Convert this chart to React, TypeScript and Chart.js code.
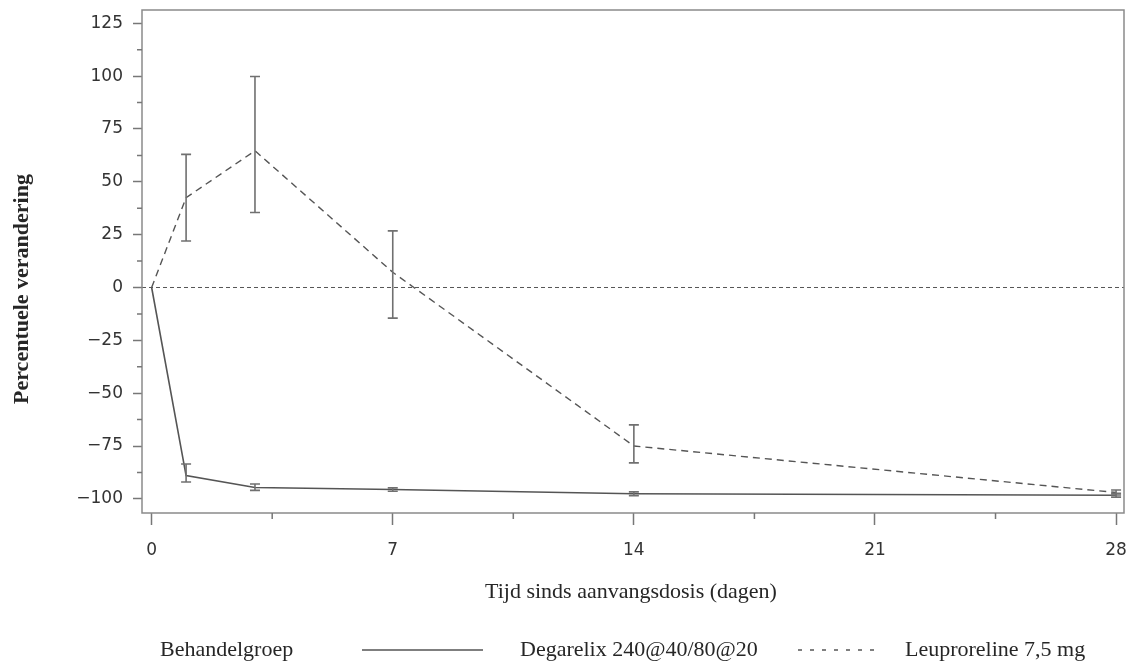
import React, { useEffect, useRef } from "react";
import { Chart, registerables } from "chart.js";

Chart.register(...registerables);

// ---- data ----
const days = [0, 1, 3, 7, 14, 28];
const degarelix = [0, -89, -94.6, -95.6, -97.6, -98.3];
const degarelixLow = [null, -92, -96, -96.4, -98.5, -99.2];
const degarelixHigh = [null, -83.5, -93, -94.8, -96.7, -97.4];
const leuprorelin = [0, 42.5, 64.7, 7.2, -75, -97];
const leuprorelinLow = [null, 22, 35.5, -14.5, -83, -98.2];
const leuprorelinHigh = [null, 63, 99.8, 26.8, -65, -95.8];

const xTickValues = [0, 7, 14, 21, 28];
const xMinorTicks = [3.5, 10.5, 17.5, 24.5];
const yTickValues = [-100, -75, -50, -25, 0, 25, 50, 75, 100, 125];
const yMinorTicks = [-87.5, -62.5, -37.5, -12.5, 12.5, 37.5, 62.5, 87.5, 112.5];

const xTitle = "Tijd sinds aanvangsdosis (dagen)";
const yTitle = "Percentuele verandering";
const legendTitle = "Behandelgroep";
const seriesNames = ["Degarelix 240@40/80@20", "Leuproreline 7,5 mg"];

const LINE = "#555555";
const FRAME = "#8a8a8a";
const TEXT = "#262626";
const SERIF = '"Liberation Serif", "Times New Roman", serif';

const fmt = (v: number) => (v < 0 ? "\u2212" + Math.abs(v) : String(v));

const decorPlugin = {
  id: "decor",
  beforeDatasetsDraw(chart: any) {
    const { ctx, chartArea, scales } = chart;
    const ys = scales.y;
    ctx.save();
    const y0 = ys.getPixelForValue(0);
    ctx.strokeStyle = "#555";
    ctx.lineWidth = 1;
    ctx.setLineDash([4, 3]);
    ctx.beginPath();
    ctx.moveTo(chartArea.left, y0);
    ctx.lineTo(chartArea.right, y0);
    ctx.stroke();
    ctx.setLineDash([]);
    ctx.restore();
  },
  afterDatasetsDraw(chart: any) {
    const { ctx, chartArea, scales } = chart;
    const xs = scales.x;
    const ys = scales.y;
    ctx.save();
    const drawBars = (lo: (number | null)[], hi: (number | null)[]) => {
      ctx.strokeStyle = "#707070";
      ctx.lineWidth = 1.6;
      for (let i = 0; i < days.length; i++) {
        const l = lo[i];
        const h = hi[i];
        if (l == null || h == null) continue;
        const x = xs.getPixelForValue(days[i]);
        const yl = ys.getPixelForValue(l);
        const yh = ys.getPixelForValue(h);
        ctx.beginPath();
        ctx.moveTo(x, yl);
        ctx.lineTo(x, yh);
        ctx.moveTo(x - 5, yl);
        ctx.lineTo(x + 5, yl);
        ctx.moveTo(x - 5, yh);
        ctx.lineTo(x + 5, yh);
        ctx.stroke();
      }
    };
    drawBars(degarelixLow, degarelixHigh);
    drawBars(leuprorelinLow, leuprorelinHigh);

    ctx.strokeStyle = FRAME;
    ctx.lineWidth = 1.5;
    ctx.strokeRect(chartArea.left, chartArea.top, chartArea.right - chartArea.left, chartArea.bottom - chartArea.top);

    ctx.strokeStyle = "#777";
    ctx.lineWidth = 1.5;
    ctx.beginPath();
    for (const v of yMinorTicks) {
      const y = ys.getPixelForValue(v);
      ctx.moveTo(chartArea.left - 5, y);
      ctx.lineTo(chartArea.left, y);
    }
    for (const v of xMinorTicks) {
      const x = xs.getPixelForValue(v);
      ctx.moveTo(x, chartArea.bottom);
      ctx.lineTo(x, chartArea.bottom + 6);
    }
    ctx.stroke();

    ctx.fillStyle = TEXT;
    ctx.textBaseline = "middle";
    ctx.textAlign = "center";
    ctx.font = `22px ${SERIF}`;
    ctx.fillText(xTitle, 631, 592);
    ctx.save();
    ctx.translate(22, 289);
    ctx.rotate(-Math.PI / 2);
    ctx.font = `bold 22px ${SERIF}`;
    ctx.fillText(yTitle, 0, 0);
    ctx.restore();

    ctx.textAlign = "left";
    ctx.font = `22px ${SERIF}`;
    ctx.fillText(legendTitle, 160, 650);
    ctx.fillText(seriesNames[0], 520, 650);
    ctx.fillText(seriesNames[1], 905, 650);
    ctx.strokeStyle = LINE;
    ctx.lineWidth = 1.5;
    ctx.beginPath();
    ctx.moveTo(362, 650);
    ctx.lineTo(483, 650);
    ctx.stroke();
    ctx.setLineDash([4, 8]);
    ctx.beginPath();
    ctx.moveTo(798, 650);
    ctx.lineTo(880, 650);
    ctx.stroke();
    ctx.restore();
  },
};

export default function App() {
  const ref = useRef<HTMLCanvasElement | null>(null);

  useEffect(() => {
    if (!ref.current) return;
    const chart = new Chart(ref.current, {
      type: "line",
      data: {
        datasets: [
          {
            label: seriesNames[0],
            data: days.map((d, i) => ({ x: d, y: degarelix[i] })),
            borderColor: LINE,
            borderWidth: 1.6,
            pointRadius: 0,
            tension: 0,
          },
          {
            label: seriesNames[1],
            data: days.map((d, i) => ({ x: d, y: leuprorelin[i] })),
            borderColor: LINE,
            borderWidth: 1.4,
            borderDash: [7, 5],
            pointRadius: 0,
            tension: 0,
          },
        ],
      },
      options: {
        animation: false,
        responsive: false,
        devicePixelRatio: 1,
        layout: { padding: { top: 10, right: 4, left: 0, bottom: 0 } },
        plugins: {
          legend: { display: false },
          tooltip: { enabled: false },
        },
        scales: {
          x: {
            type: "linear",
            min: -0.28,
            max: 28.23,
            afterBuildTicks: (s: any) => {
              s.ticks = xTickValues.map((v) => ({ value: v }));
            },
            afterFit: (s: any) => {
              s.height = 151;
              s.paddingLeft = 0;
              s.paddingRight = 0;
            },
            ticks: {
              callback: (v: any) => fmt(Number(v)),
              font: { family: '"DejaVu Sans"', size: 17 },
              color: "#333",
              padding: 15,
              maxRotation: 0,
            },
            grid: {
              drawOnChartArea: false,
              drawTicks: true,
              tickLength: 12,
              tickColor: "#777",
              tickWidth: 1.5,
            },
            border: { display: false },
          },
          y: {
            type: "linear",
            min: -106.7,
            max: 131.3,
            afterBuildTicks: (s: any) => {
              s.ticks = yTickValues.map((v) => ({ value: v }));
            },
            afterFit: (s: any) => {
              s.width = 142;
              s.paddingTop = 0;
              s.paddingBottom = 0;
            },
            ticks: {
              callback: (v: any) => fmt(Number(v)),
              font: { family: '"DejaVu Sans"', size: 17 },
              color: "#333",
              padding: 10,
            },
            grid: {
              drawOnChartArea: false,
              drawTicks: true,
              tickLength: 9,
              tickColor: "#777",
              tickWidth: 1.5,
            },
            border: { display: false },
          },
        },
      },
      plugins: [decorPlugin],
    } as any);
    return () => chart.destroy();
  }, []);

  return (
    <div style={{ position: "absolute", left: 0, top: 0, width: 1128, height: 664, background: "#fff" }}>
      <canvas ref={ref} width={1128} height={664} style={{ display: "block" }} />
    </div>
  );
}
